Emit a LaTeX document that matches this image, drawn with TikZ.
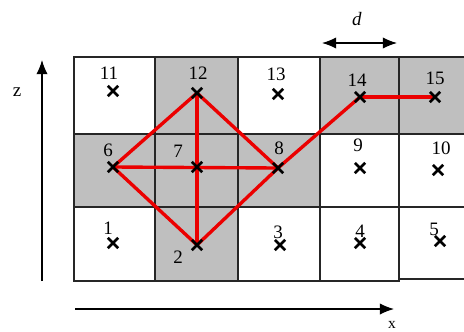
\documentclass[tikz,border=0pt]{standalone}
\usepackage{fontspec}
\setmainfont{Liberation Serif}
\usetikzlibrary{arrows.meta,shapes.misc,backgrounds}
\begin{document}
\begin{tikzpicture}[x=0.025cm, y=-0.025cm,
  every node/.style={font=\fontsize{13.5}{15}\selectfont},
  cell/.style={draw=black!85, line width=0.9pt, fill=white},
  shaded/.style={cell, fill=black!25},
  xmark/.style={cross out, draw=black, line width=1.8pt, minimum size=5.5pt, inner sep=0pt},
  num/.style={inner sep=0pt},
  link/.style={draw=red!92!black, line width=2.4pt},
  axis/.style={line width=0.9pt, -{Latex[length=10pt,width=8pt]}}]
  \useasboundingbox (0,0) rectangle (464,331);
  \clip (0,0) rectangle (464,331);
  % cell centres (crosses)
  \node[xmark] (p11) at (113,91) {}; \node[xmark] (p12) at (197,93) {}; \node[xmark] (p13) at (278,94) {};
  \node[xmark] (p14) at (360,97) {}; \node[xmark] (p15) at (435,97) {};
  \node[xmark] (p6) at (113,167) {}; \node[xmark] (p7) at (197,167) {}; \node[xmark] (p8) at (278,168) {};
  \node[xmark] (p9) at (360,168) {}; \node[xmark] (p10) at (438,170) {};
  \node[xmark] (p1) at (113,243) {}; \node[xmark] (p2) at (197,245) {}; \node[xmark] (p3) at (280,245) {};
  \node[xmark] (p4) at (360,243) {}; \node[xmark] (p5) at (440,241) {};
  % cell numbers
  \node[num] (n11) at (109,73) {11}; \node[num] (n12) at (198,73) {12}; \node[num] (n13) at (276,74) {13};
  \node[num] (n14) at (357,80) {14}; \node[num] (n15) at (435,78) {15};
  \node[num] (n6) at (108,150) {6}; \node[num] (n7) at (178,151) {7}; \node[num] (n8) at (279,148) {8};
  \node[num] (n9) at (358,145) {9}; \node[num] (n10) at (441,148) {10};
  \node[num] (n1) at (108,228) {1}; \node[num] (n2) at (178,257) {2}; \node[num] (n3) at (278,232) {3};
  \node[num] (n4) at (360,231) {4}; \node[num] (n5) at (434,229) {5};
  \begin{scope}[on background layer]
    % grid
    \draw[cell] (74,57) rectangle (155,134); \draw[shaded] (155,57) rectangle (238,134); \draw[cell] (238,57) rectangle (320,134);
    \draw[shaded] (320,57) rectangle (399,134); \draw[shaded] (399,57) rectangle (470,134);
    \draw[shaded] (74,134) rectangle (155,207); \draw[shaded] (155,134) rectangle (238,207); \draw[shaded] (238,134) rectangle (320,207);
    \draw[cell] (320,134) rectangle (399,207); \draw[cell] (399,134) rectangle (470,207);
    \draw[cell] (74,207) rectangle (155,281); \draw[shaded] (155,207) rectangle (238,281); \draw[cell] (238,207) rectangle (320,281);
    \draw[cell] (320,207) rectangle (399,281); \draw[cell] (399,207) rectangle (470,279);
    \draw[line width=1.4pt, black!85] (399,57) -- (399,281);
    % path
    \draw[link] (p6.center) -- (p12.center); \draw[link] (p12.center) -- (p8.center);
    \draw[link] (p8.center) -- (p2.center); \draw[link] (p2.center) -- (p6.center);
    \draw[link] (p12.center) -- (p2.center); \draw[link] (p6.center) -- (p8.center);
    \draw[link] (p8.center) -- (p14.center); \draw[link] (p14.center) -- (p15.center);
  \end{scope}
  % axes
  \coordinate (zfoot) at (42,281); \coordinate (ztip) at (42,60);
  \draw[axis] (zfoot) -- (ztip);
  \node (zlab) at (17,92) {z};
  \coordinate (xfoot) at (75,309); \coordinate (xtip) at (394,309);
  \draw[axis] (xfoot) -- (xtip);
  \node[font=\fontsize{11}{13}\selectfont] (xlab) at (392,325) {x};
  % spacing d
  \coordinate (dl) at (322,43); \coordinate (dr) at (397,43);
  \draw[line width=0.9pt, {Latex[length=10pt,width=8pt]}-{Latex[length=10pt,width=8pt]}] (dl) -- (dr);
  \node (dlab) at (357,19) {\textit{d}};
\end{tikzpicture}
\end{document}
